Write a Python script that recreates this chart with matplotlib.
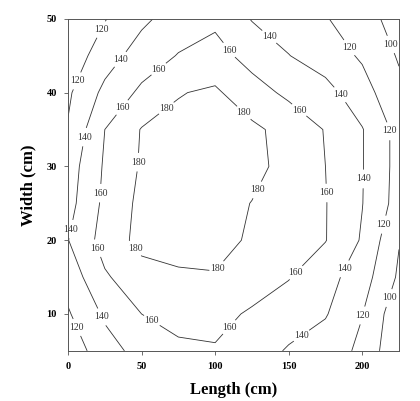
import numpy as np
import matplotlib
matplotlib.use("Agg")
import matplotlib.pyplot as plt

# sample positions (cm)
length_cm = [0, 25, 50, 75, 100, 125, 150, 175, 200, 225]
width_cm = [5, 10, 15, 20, 25, 30, 35, 40, 45, 50]

# values, one row per width
row_w05 = [107, 132, 147, 157, 158, 150, 138, 130, 116, 82]
row_w10 = [118, 143, 160, 165, 167, 157, 150, 141.5, 120.5, 86]
row_w15 = [128, 157.6, 172, 177, 179, 172, 161, 147.6, 129, 97]
row_w20 = [139.5, 168, 186, 188, 185, 178, 169.5, 160.7, 138, 101]
row_w25 = [133, 164.5, 185, 189, 188, 179.5, 170, 160.8, 140.5, 112]
row_w30 = [130, 162.5, 182, 188, 190, 186, 173, 160, 141, 113]
row_w35 = [121.5, 160, 181, 185, 187, 184, 173, 159, 141, 113]
row_w40 = [117, 145, 164, 179, 183, 168, 156, 147, 128, 105]
row_w45 = [107, 131, 149, 161, 167, 153, 140.5, 130, 117.5, 98]
row_w50 = [102, 119, 136, 149, 156, 139, 130.5, 121.5, 107, 93]

levels = [100, 120, 140, 160, 180]

# where the contour labels sit
label_spots = [(22, 48.6), (6, 41.6), (33, 44.9), (10.4, 34), (60, 43.6),
               (33.5, 38.5), (68, 37.6), (45, 30.6), (20, 26.4), (2, 21.5),
               (18.4, 18.8), (44.4, 18.7), (21.8, 9.5), (6.3, 8.2), (58.5, 9.6),
               (109, 45.7), (137.8, 47.8), (194, 46.5), (219, 46.5), (122, 37.8),
               (157, 37.6), (187.6, 40.1), (219.4, 34.8), (128.7, 26.8),
               (176, 26.4), (200.8, 28.3), (214.8, 22.1), (103.3, 15.9),
               (155.5, 15.5), (191.2, 15.8), (217.7, 12.2), (200, 9.8),
               (155, 8.1), (114.7, 7.3)]

Z = np.array([row_w05, row_w10, row_w15, row_w20, row_w25,
              row_w30, row_w35, row_w40, row_w45, row_w50])
X, Y = np.meshgrid(length_cm, width_cm)

plt.rcParams['font.family'] = ['Liberation Serif', 'DejaVu Serif']

fig = plt.figure(figsize=(4.2, 4.01), dpi=100)
ax = fig.add_axes([0.162, 0.125, 0.788, 0.828])

cs = ax.contour(X, Y, Z, levels=levels, colors='#333333', linewidths=0.6)
texts = ax.clabel(cs, fmt='%d', fontsize=7, inline=True, inline_spacing=2,
                  manual=label_spots)
for t in texts:
    t.set_rotation(0)
    t.set_clip_on(False)

ax.set_xlim(0, 225)
ax.set_ylim(5, 50)
ax.set_xticks([0, 50, 100, 150, 200])
ax.set_yticks([10, 20, 30, 40, 50])
ax.tick_params(direction='out', length=3, width=0.6, labelsize=7.5, color='#555555', pad=5)
for lab in ax.get_xticklabels() + ax.get_yticklabels():
    lab.set_fontweight('bold')
for sp in ax.spines.values():
    sp.set_linewidth(0.7)
    sp.set_color('#555555')

ax.set_xlabel('Length (cm)', fontsize=12, fontweight='bold', labelpad=8)
ax.set_ylabel('Width (cm)', fontsize=12, fontweight='bold', labelpad=7)

fig.savefig('out.png', dpi=100)
